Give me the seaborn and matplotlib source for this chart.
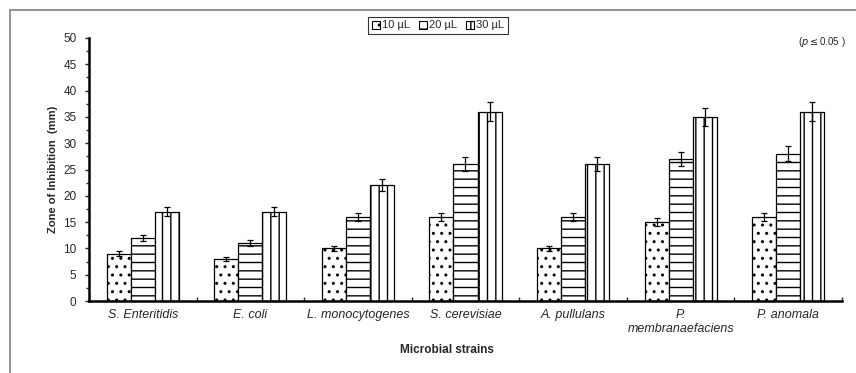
import pandas as pd
import seaborn as sns
import matplotlib.pyplot as plt
from matplotlib.patches import Rectangle
from matplotlib.ticker import MultipleLocator, FixedLocator

# Data
strains = ["S. Enteritidis", "E. coli", "L. monocytogenes", "S. cerevisiae",
           "A. pullulans", "P.\nmembranaefaciens", "P. anomala"]
doses = ["10 µL", "20 µL", "30 µL"]
zone_10 = [9, 8, 10, 16, 10, 15, 16]
zone_20 = [12, 11, 16, 26, 16, 27, 28]
zone_30 = [17, 17, 22, 36, 26, 35, 36]
err_10 = [0.45, 0.4, 0.5, 0.8, 0.5, 0.75, 0.8]
err_20 = [0.6, 0.55, 0.8, 1.3, 0.8, 1.35, 1.4]
err_30 = [0.85, 0.85, 1.1, 1.8, 1.3, 1.75, 1.8]

df = pd.DataFrame({
    "strain": strains * 3,
    "dose": [d for d in doses for _ in strains],
    "zone": zone_10 + zone_20 + zone_30,
})
errs = [err_10, err_20, err_30]
hatches = ["..", "--", "||"]

sns.set_style("white")
plt.rcParams["font.family"] = ["Liberation Sans", "DejaVu Sans"]
plt.rcParams["hatch.linewidth"] = 1.0
plt.rcParams["hatch.color"] = "black"

fig = plt.figure(figsize=(8.56, 3.73), dpi=100)
ax = fig.add_axes([89 / 856, 1 - 301 / 373, 753 / 856, 263 / 373])

sns.barplot(data=df, x="strain", y="zone", hue="dose", order=strains,
            hue_order=doses, palette=["white"] * 3, edgecolor="black",
            linewidth=0.9, width=0.67, ax=ax, legend=False)

for cont, h, e in zip(ax.containers, hatches, errs):
    xs, ys = [], []
    for bar in cont:
        bar.set_hatch(h)
        xs.append(bar.get_x() + bar.get_width() / 2)
        ys.append(bar.get_height())
    ax.errorbar(xs, ys, yerr=e, fmt="none", ecolor="black",
                elinewidth=0.9, capsize=2.5, capthick=0.9)

ax.set_xlim(-0.5, len(strains) - 0.5)
ax.set_ylim(0, 50)
ax.yaxis.set_major_locator(MultipleLocator(5))
ax.yaxis.set_minor_locator(MultipleLocator(2.5))
ax.xaxis.set_minor_locator(FixedLocator([i + 0.5 for i in range(-1, len(strains))]))

for s in ["top", "right"]:
    ax.spines[s].set_visible(False)
for s in ["left", "bottom"]:
    ax.spines[s].set_linewidth(1.8)
    ax.spines[s].set_color("black")

ax.tick_params(axis="y", which="major", direction="out", length=3, width=1,
               labelsize=8.5, left=True, pad=6)
ax.tick_params(axis="y", which="minor", direction="out", length=2, width=1, left=True)
ax.tick_params(axis="x", which="both", direction="in", length=3, width=1,
               bottom=True, labelsize=9, pad=6)
for lbl in ax.get_xticklabels():
    lbl.set_fontstyle("italic")

ax.set_xlabel("")
ax.set_ylabel("Zone of Inhibition  (mm)", fontsize=8, fontweight="bold", labelpad=4)
fig.text(447 / 856, 1 - 350 / 373, "Microbial strains", ha="center", va="center",
         fontsize=8.5, fontweight="bold")

# legend
handles = [Rectangle((0, 0), 1, 1, facecolor="white", edgecolor="black",
                     hatch=h, linewidth=0.8) for h in hatches]
leg = fig.legend(handles, doses, loc="center", bbox_to_anchor=(438 / 856, 1 - 25.5 / 373),
                 ncol=3, fontsize=8, frameon=True, fancybox=False,
                 handlelength=0.7, handleheight=0.7, handletextpad=0.2,
                 columnspacing=0.8, borderpad=0.35, borderaxespad=0)
leg.get_frame().set_edgecolor("black")
leg.get_frame().set_linewidth(0.8)

fig.text(822 / 856, 1 - 42 / 373, r"($\it{p}$$\leq$0.05 )", ha="center", va="center",
         fontsize=7)

# outer frame of the figure (left and top edges visible)
fig.patches.append(Rectangle((10 / 856, -0.1), 1.2, 1 - 10 / 373 + 0.1,
                             transform=fig.transFigure, fill=False,
                             edgecolor="#808080", linewidth=1.2))

plt.savefig("out.png", dpi=100)
